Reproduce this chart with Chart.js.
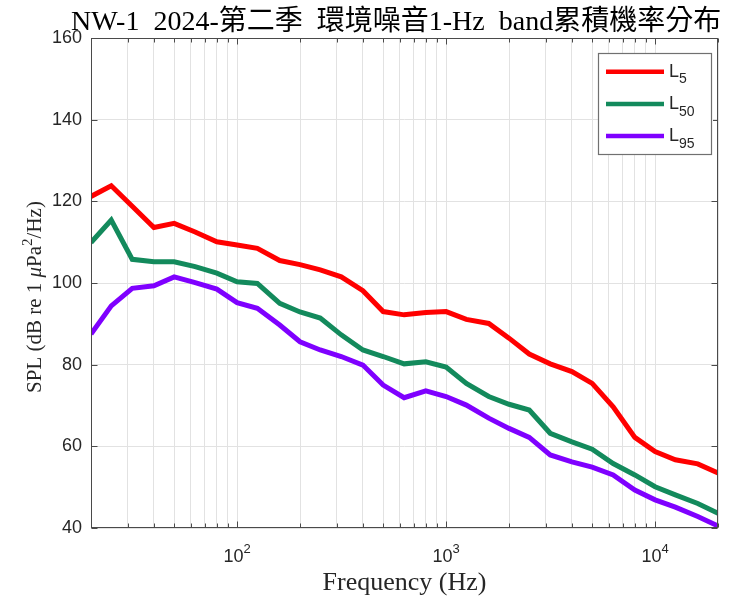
<!DOCTYPE html>
<html>
<head>
<meta charset="utf-8">
<script src="https://cdn.jsdelivr.net/npm/chart.js"></script>
<style>
  body { margin: 0; background: #fff; }
</style>
</head>
<body>
<canvas id="spl" width="737" height="603"></canvas>
<script>
// 1/3-octave band centre frequencies (Hz)
var freqs = [20, 25, 31.5, 40, 50, 63, 80, 100, 125, 160, 200, 250, 315, 400, 500, 630,
  800, 1000, 1250, 1600, 2000, 2500, 3150, 4000, 5000, 6300, 8000, 10000, 12500, 16000, 20000];

// exceedance levels, dB re 1 uPa^2/Hz
var l5 = [121.2, 123.8, 118.8, 113.6, 114.6, 112.5, 110.1, 109.3, 108.5, 105.5, 104.5, 103.2,
  101.5, 98.1, 93.0, 92.2, 92.8, 93.0, 91.1, 90.1, 86.5, 82.6, 80.2, 78.3, 75.4, 69.7, 62.2,
  58.7, 56.7, 55.7, 53.5];
var l50 = [109.9, 115.4, 105.8, 105.2, 105.2, 104.0, 102.4, 100.3, 99.9, 95.0, 92.9, 91.4,
  87.3, 83.6, 82.0, 80.2, 80.7, 79.4, 75.4, 72.2, 70.3, 68.9, 63.2, 61.1, 59.3, 55.8, 53.0,
  50.1, 48.1, 46.0, 43.6];
var l95 = [87.5, 94.4, 98.7, 99.3, 101.5, 100.1, 98.5, 95.2, 93.8, 89.7, 85.6, 83.6,
  82.0, 79.9, 75.0, 71.9, 73.6, 72.2, 70.1, 66.9, 64.4, 62.2, 57.9, 56.2, 54.9, 53.0, 49.3,
  46.9, 45.1, 42.8, 40.5];

var seriesSubs = ['5', '50', '95'];
var seriesColors = ['#ff0000', '#138a5c', '#7f00ff'];

// axis ticks / grid
var yTicks = [40, 60, 80, 100, 120, 140, 160];
var xGrid = [20, 30, 40, 50, 60, 70, 80, 90, 100, 200, 300, 400, 500, 600, 700, 800, 900,
  1000, 2000, 3000, 4000, 5000, 6000, 7000, 8000, 9000, 10000, 20000];
var xPowers = [2, 3, 4];

var titleText = 'NW-1 2024-第二季 環境噪音1-Hz band累積機率分布';
var xTitle = 'Frequency (Hz)';

var SANS = '"Liberation Sans", Arial, sans-serif';
var SERIF = '"Liberation Serif", "Times New Roman", serif';
var CJK = '"Noto Sans CJK TC", sans-serif';

function pts(vals) {
  return freqs.map(function (f, i) { return { x: f, y: vals[i] }; });
}

var datasets = [l5, l50, l95].map(function (vals, i) {
  return {
    label: 'L' + seriesSubs[i],
    data: pts(vals),
    borderColor: seriesColors[i],
    backgroundColor: seriesColors[i],
    borderWidth: 5,
    pointRadius: 0,
    tension: 0,
    fill: false
  };
});

// title drawn in runs: serif for latin (half-width spaces), CJK font for hanzi
function drawTitle(ctx, text, x0, base) {
  var runs = text.split(/([\u2E80-\u9FFF\uF900-\uFAFF]+| )/).filter(Boolean);
  var cx = x0;
  ctx.textAlign = 'left';
  ctx.textBaseline = 'alphabetic';
  runs.forEach(function (r) {
    if (r === ' ') {
      cx += 14;
      return;
    }
    ctx.font = (/[\u2E80-\u9FFF]/.test(r) ? '28px ' + CJK : '28px ' + SERIF);
    ctx.fillText(r, cx, base);
    cx += ctx.measureText(r).width;
  });
}

// matlab-style decorations: box, inward ticks, labels, legend
var decor = {
  id: 'decor',
  afterDraw: function (chart) {
    var ctx = chart.ctx;
    var a = chart.chartArea;
    var x = chart.scales.x;
    var y = chart.scales.y;
    ctx.save();

    // box
    ctx.strokeStyle = '#4a4a4a';
    ctx.lineWidth = 1;
    var L = Math.round(a.left) + 0.5, T = Math.round(a.top) + 0.5;
    var R = Math.round(a.right) - 0.5, B = Math.round(a.bottom) - 0.5;
    ctx.strokeRect(L, T, R - L, B - T);

    // inward tick marks
    ctx.beginPath();
    xGrid.forEach(function (v) {
      var px = Math.round(x.getPixelForValue(v)) + 0.5;
      var len = (Math.log10(v) % 1 === 0) ? 6 : 4;
      ctx.moveTo(px, B); ctx.lineTo(px, B - len);
      ctx.moveTo(px, T); ctx.lineTo(px, T + len);
    });
    yTicks.forEach(function (v) {
      var py = Math.round(y.getPixelForValue(v)) + 0.5;
      ctx.moveTo(L, py); ctx.lineTo(L + 6, py);
      ctx.moveTo(R, py); ctx.lineTo(R - 6, py);
    });
    ctx.stroke();

    // x tick labels 10^n
    ctx.fillStyle = '#262626';
    ctx.textBaseline = 'alphabetic';
    ctx.textAlign = 'left';
    xPowers.forEach(function (p) {
      var px = x.getPixelForValue(Math.pow(10, p));
      ctx.font = '18px ' + SANS;
      var wb = ctx.measureText('10').width;
      ctx.font = '13px ' + SANS;
      var ws = ctx.measureText(String(p)).width;
      var x0 = px - (wb + ws) / 2;
      ctx.font = '18px ' + SANS;
      ctx.fillText('10', x0, 562);
      ctx.font = '13px ' + SANS;
      ctx.fillText(String(p), x0 + wb, 552.5);
    });

    // x axis title
    ctx.font = '26px ' + SERIF;
    ctx.textAlign = 'center';
    ctx.fillText(xTitle, (a.left + a.right) / 2, 590);

    // y axis title, with italic mu and superscript 2
    var parts = [
      { t: 'SPL (dB re 1 ', f: '21px ' + SERIF, dy: 0 },
      { t: 'μ', f: 'italic 21px ' + SERIF, dy: 0 },
      { t: 'Pa', f: '21px ' + SERIF, dy: 0 },
      { t: '2', f: '15px ' + SERIF, dy: -9 },
      { t: '/Hz)', f: '21px ' + SERIF, dy: 0 }
    ];
    var total = 0;
    parts.forEach(function (p) { ctx.font = p.f; p.w = ctx.measureText(p.t).width; total += p.w; });
    ctx.save();
    ctx.translate(41, 297);
    ctx.rotate(-Math.PI / 2);
    ctx.textAlign = 'left';
    var cx = -total / 2;
    parts.forEach(function (p) { ctx.font = p.f; ctx.fillText(p.t, cx, p.dy); cx += p.w; });
    ctx.restore();

    // chart title
    ctx.fillStyle = '#000';
    drawTitle(ctx, titleText, 71, 30);

    // legend
    ctx.fillStyle = '#fff';
    ctx.fillRect(598, 53, 115, 102);
    ctx.strokeStyle = '#707070';
    ctx.lineWidth = 1.2;
    ctx.strokeRect(598.5, 53.5, 113, 101);
    chart.data.datasets.forEach(function (ds, i) {
      var ly = 71.7 + i * 32.2;
      ctx.strokeStyle = ds.borderColor;
      ctx.lineWidth = 4.5;
      ctx.beginPath();
      ctx.moveTo(606, ly);
      ctx.lineTo(664, ly);
      ctx.stroke();
      ctx.fillStyle = '#262626';
      ctx.textAlign = 'left';
      ctx.font = '18px ' + SANS;
      ctx.fillText('L', 669, ly + 5);
      var lw = ctx.measureText('L').width;
      ctx.font = '14px ' + SANS;
      ctx.fillText(ds.label.slice(1), 669 + lw, ly + 11.6);
    });

    ctx.restore();
  }
};

new Chart(document.getElementById('spl').getContext('2d'), {
  type: 'line',
  data: { datasets: datasets },
  options: {
    responsive: false,
    devicePixelRatio: 1,
    animation: false,
    layout: { padding: { top: 38, right: 19, left: 0, bottom: 0 } },
    plugins: {
      legend: { display: false },
      tooltip: { enabled: false }
    },
    scales: {
      x: {
        type: 'logarithmic',
        min: 20,
        max: 20000,
        afterBuildTicks: function (s) { s.ticks = xGrid.map(function (v) { return { value: v }; }); },
        afterFit: function (s) { s.height = 75; },
        ticks: { display: false },
        grid: { color: '#e2e2e2', lineWidth: 1, drawTicks: false },
        border: { display: false }
      },
      y: {
        min: 40,
        max: 160,
        afterBuildTicks: function (s) { s.ticks = yTicks.map(function (v) { return { value: v }; }); },
        afterFit: function (s) { s.width = 91; },
        ticks: {
          padding: 9,
          color: '#262626',
          font: { family: SANS, size: 18 }
        },
        grid: { color: '#e2e2e2', lineWidth: 1, drawTicks: false },
        border: { display: false }
      }
    }
  },
  plugins: [decor]
});
</script>
</body>
</html>
